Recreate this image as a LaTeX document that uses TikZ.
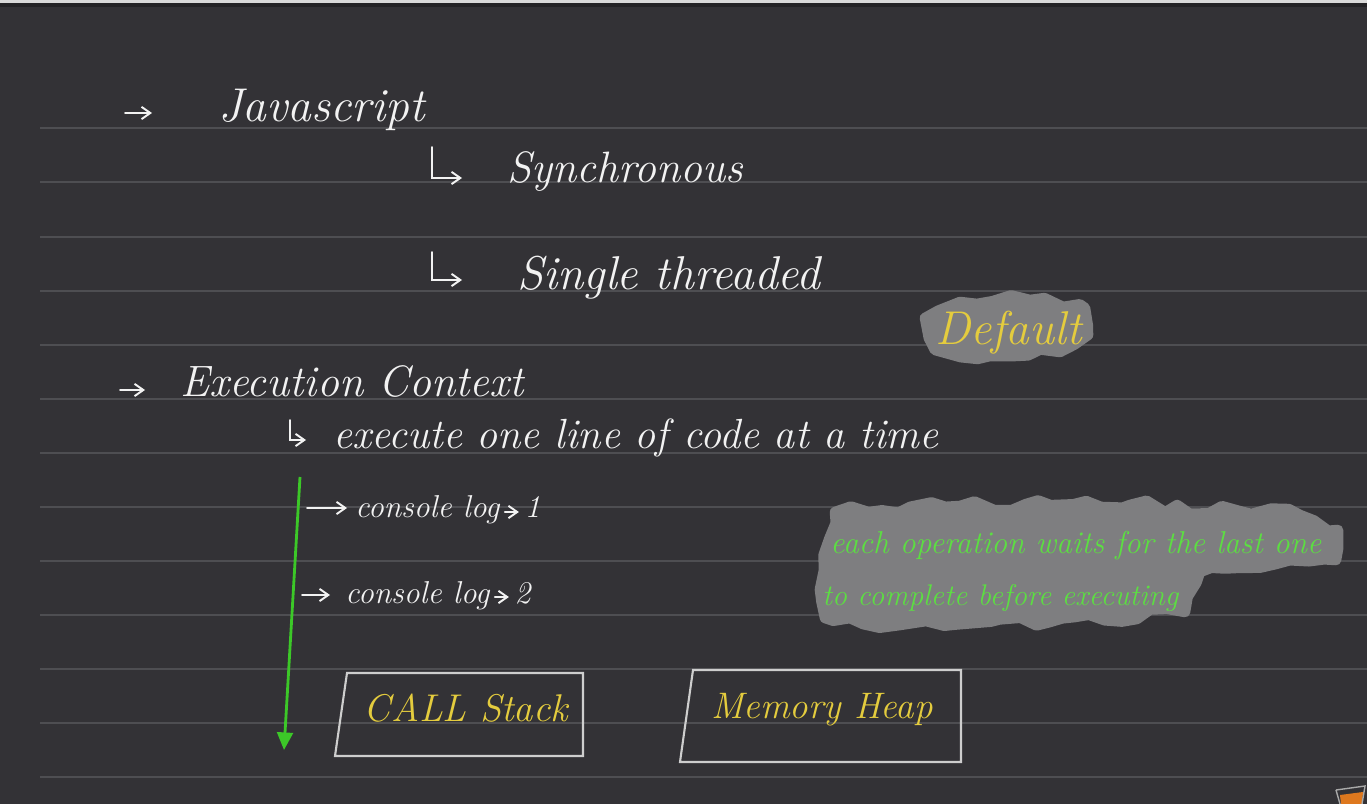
\documentclass[tikz,border=0pt]{standalone}
\usepackage{tikz}
\usetikzlibrary{arrows.meta, positioning, decorations.pathmorphing, calc}
\definecolor{BoardGray}{RGB}{51,50,54}
\definecolor{RuleGray}{RGB}{78,78,82}
\definecolor{ChalkWhite}{RGB}{242,242,242}
\definecolor{MarkerYellow}{RGB}{228,204,62}
\definecolor{MarkerGreen}{RGB}{92,222,66}
\definecolor{ArrowGreen}{RGB}{60,200,40}
\definecolor{BlobGray}{RGB}{126,126,128}
\definecolor{CupOrange}{RGB}{222,120,30}

\tikzset{
  hand/.style={text=ChalkWhite, inner sep=0pt, anchor=base west},
  pen/.style={draw=ChalkWhite, line width=1.1pt, line cap=round, -{Straight Barb[length=5pt,width=7pt]}},
  blob/.style={fill=BlobGray, draw=BlobGray, line width=6pt, line join=round,
               decorate, decoration={random steps, segment length=9pt, amplitude=3pt}},
  boxline/.style={draw=ChalkWhite!85!black, line width=1.2pt},
}

\begin{document}
\begin{tikzpicture}[x=0.02cm, y=-0.02cm]
  \pgfmathsetseed{7}
  % board
  \fill[BoardGray] (0,0) rectangle (1367,804);
  \fill[ChalkWhite!90!black] (0,0) rectangle (1367,3);
  \fill[BoardGray!70!black] (0,3) rectangle (1367,7);
  \useasboundingbox (0,0) rectangle (1367,804);
  % ruled lines
  \foreach \ry in {128,182,237,291,345,399,453,507,561,615,669,723,777}
    \draw[RuleGray, line width=0.9pt] (40,\ry) -- (1367,\ry);

  % highlight blobs
  \path[blob] (925,318) -- (960,302) -- (1030,300) -- (1085,308)
              -- (1088,335) -- (1060,352) -- (990,356) -- (935,350) -- cycle;
  \path[blob] (835,512) -- (960,506) -- (1130,505) -- (1300,515) -- (1338,530)
              -- (1336,560) -- (1200,572) -- (1185,612) -- (1050,622)
              -- (900,625) -- (825,618) -- (824,570) -- cycle;

  % headings
  \node[hand, font=\fontsize{27}{30}\itshape\selectfont] (js) at (218,122) {Javascript};
  \node[hand, font=\fontsize{25}{30}\itshape\selectfont] (sync) at (507,183) {Synchronous};
  \node[hand, font=\fontsize{27}{30}\itshape\selectfont] (single) at (517,290) {Single threaded};
  \node[hand, text=MarkerYellow, font=\fontsize{27}{30}\itshape\selectfont] (dflt) at (935,345) {Default};
  \node[hand, font=\fontsize{25}{30}\itshape\selectfont] (exec) at (180,397) {Execution Context};
  \node[hand, font=\fontsize{24}{28}\itshape\selectfont] (oneline) at (333,448) {execute one line of code at a time};

  \coordinate (jsarr) at (125,113);
  \coordinate (execarr) at (120,390);
  \coordinate (synchook) at (432,147);
  \coordinate (singlehook) at (432,252);
  \coordinate (linehook) at (290,420);
  \draw[pen] (jsarr) -- ++(27,0);
  \draw[pen] (execarr) -- ++(25,0);
  \draw[pen] (synchook) |- (462,178);
  \draw[pen] (singlehook) |- (462,280);
  \draw[pen] (linehook) |- (306,440);

  % flow of execution
  \coordinate (flowtop) at (300,477);
  \coordinate (flowend) at (284,750);
  \draw[ArrowGreen, line width=1.6pt, -{Triangle[length=10pt,width=9pt]}] (flowtop) -- (flowend);
  \node[hand, font=\fontsize{18}{22}\itshape\selectfont] (log1) at (355,518) {console log};
  \node[hand, font=\fontsize{18}{22}\itshape\selectfont] (log2) at (345,603) {console log};
  \node[hand, font=\fontsize{18}{22}\itshape\selectfont, right=14pt of log1.base east, anchor=base west] (one) {1};
  \node[hand, font=\fontsize{18}{22}\itshape\selectfont, right=14pt of log2.base east, anchor=base west] (two) {2};
  \coordinate (in1) at (307,508);
  \coordinate (in2) at (302,595);
  \draw[pen] (in1) -- ++(40,0);
  \draw[pen] (in2) -- ++(28,0);
  \draw[pen, shorten <=3pt, shorten >=3pt] ($(log1.base east)+(0,-6)$) -- ($(one.base west)+(0,-6)$);
  \draw[pen, shorten <=3pt, shorten >=3pt] ($(log2.base east)+(0,-6)$) -- ($(two.base west)+(0,-6)$);

  % note
  \node[hand, text=MarkerGreen, font=\fontsize{18}{22}\itshape\selectfont] (note1) at (830,553) {each operation waits for the last one};
  \node[hand, text=MarkerGreen, font=\fontsize{17}{22}\itshape\selectfont] (note2) at (822,605) {to complete before executing};

  % call stack and memory heap
  \coordinate (cs-nw) at (347,673);
  \coordinate (cs-ne) at (583,673);
  \coordinate (cs-se) at (583,756);
  \coordinate (cs-sw) at (335,756);
  \draw[boxline] (cs-nw) -- (cs-ne) -- (cs-se) -- (cs-sw) -- cycle;
  \node[text=MarkerYellow, font=\fontsize{22}{26}\itshape\selectfont] (stack) at (466,708) {CALL Stack};

  \coordinate (mh-nw) at (693,670);
  \coordinate (mh-ne) at (961,670);
  \coordinate (mh-se) at (961,762);
  \coordinate (mh-sw) at (680,762);
  \draw[boxline] (mh-nw) -- (mh-ne) -- (mh-se) -- (mh-sw) -- cycle;
  \node[text=MarkerYellow, font=\fontsize{21}{26}\itshape\selectfont] (heap) at (822,710) {Memory Heap};

  % cup in the corner
  \fill[CupOrange] (1340,795) -- (1363,792) -- (1362,804) -- (1341,804) -- cycle;
  \draw[ChalkWhite!70!black, line width=0.8pt] (1336,790) -- (1365,786) -- (1362,804);
  \draw[ChalkWhite!70!black, line width=0.8pt] (1336,790) -- (1340,804);
\end{tikzpicture}
\end{document}
